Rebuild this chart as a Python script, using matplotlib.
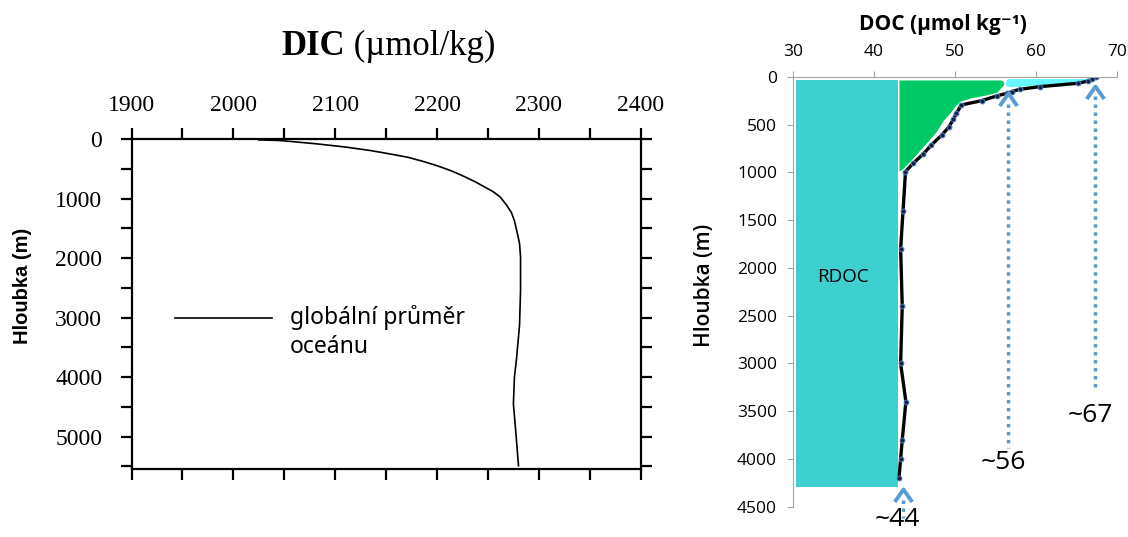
import matplotlib
matplotlib.use('Agg')
import matplotlib.pyplot as plt
from matplotlib.ticker import MultipleLocator

# DIC - global ocean mean profile
dic_depth = [10, 20, 30, 75, 130, 190, 250, 305, 380, 450, 530, 620, 710, 795, 880, 970, 1100, 1230, 1370, 1515, 1750,
             1975, 2550, 3130, 3700, 4000, 4450, 4850, 5490]
dic_value = [2025, 2045, 2052, 2081, 2110, 2135, 2155, 2172, 2188, 2201, 2214, 2226, 2237, 2246, 2255, 2262, 2268, 2273, 2276,
             2278, 2281, 2282, 2282, 2281, 2278, 2276, 2275, 2277, 2280]
dic_surf_depth = [0, 0]
dic_surf_value = [1900, 2025]

# DOC profile
doc_depth = [3, 21, 42, 66, 101, 129, 154, 171, 199, 248, 293, 380, 443, 520, 607, 712, 806, 904, 991,
             1400, 1800, 2400, 3000, 3400, 3800, 4000, 4200]
doc_value = [67.5, 66.95, 66.5, 65.2, 60.5, 58.0, 57.0, 56.4, 55.15, 53.3, 50.8, 50.2, 49.8, 49.3, 48.4, 47.1, 46.1, 44.85, 43.9,
             43.6, 43.3, 43.5, 43.3, 43.95, 43.5, 43.3, 43.1]

# fractions
rdoc_left, rdoc_right = 30.4, 42.95
rdoc_top, rdoc_bottom = 31, 4290
green_depth = [31, 40, 60, 84, 110, 140, 160, 188, 220, 255, 307, 377, 450, 572, 680, 764, 850, 921, 955, 980]
green_right = [55.6, 55.9, 56.05, 56.0, 55.7, 55.4, 55.15, 53.9, 51.85, 50.6, 50.0, 49.4, 48.6, 47.7, 46.6, 45.7, 44.8, 44.0, 43.6, 43.2]
green_left = 43.1
cyan_x = [56.6, 67.1, 66.8, 65.4, 60.5, 57.5, 56.8, 56.4, 56.3, 56.4]
cyan_y = [21, 21, 40, 60, 88, 103, 108, 95, 73, 40]

# arrows: value, tip depth, tail depth, label, label position
arrow_x = [43.55, 56.6, 67.3]
arrow_tip = [4315, 171, 94]
arrow_tail = [4620, 3880, 3280]
arrow_lbl = ['~44', '~56', '~67']
arrow_lbl_x = [42.9, 56.0, 66.7]
arrow_lbl_y = [4770, 4036, 3540]
arrow_lbl_va = ['bottom', 'center', 'center']

fig = plt.figure(figsize=(11.28, 5.37), dpi=100)
fig.patch.set_facecolor('white')

# ---------------- left panel ----------------
serif = 'Liberation Serif'
ax1 = fig.add_axes([0.1166, 0.1261, 0.4514, 0.6145])
ax1.plot(dic_value, dic_depth, color='black', lw=1.2)
ax1.plot(dic_surf_value, dic_surf_depth, color='black', lw=1.3, ls=(0, (2, 1.5)), clip_on=False)
ax1.set_xlim(1900, 2400)
ax1.set_ylim(5550, 0)
ax1.xaxis.set_major_locator(MultipleLocator(100))
ax1.xaxis.set_minor_locator(MultipleLocator(50))
ax1.yaxis.set_major_locator(MultipleLocator(1000))
ax1.yaxis.set_minor_locator(MultipleLocator(500))
ax1.tick_params(which='both', direction='out', length=8, width=1.6,
                top=True, bottom=True, left=True, right=True,
                labeltop=True, labelbottom=False)
ax1.tick_params(axis='x', which='major', pad=9)
ax1.tick_params(axis='y', which='major', pad=13)
for s in ax1.spines.values():
    s.set_linewidth(1.6)
for lab in ax1.get_xticklabels() + ax1.get_yticklabels():
    lab.set_fontfamily(serif)
    lab.set_fontsize(17)
ax1.set_ylabel('Hloubka (m)', fontfamily='Liberation Sans', fontweight='bold', fontsize=14.5)
ax1.yaxis.set_label_coords(-0.195, 0.555)
fig.text(0.306, 0.913, 'DIC', fontfamily=serif, fontweight='bold', fontsize=25, ha='right', va='center')
fig.text(0.306, 0.913, ' (µmol/kg)', fontfamily=serif, fontsize=25, ha='left', va='center')

ax1.plot([0.085, 0.276], [0.4585, 0.4585], transform=ax1.transAxes, color='black', lw=1.2)
ax1.text(0.311, 0.4585, 'globální průměr', transform=ax1.transAxes, fontfamily='Noto Sans',
         fontweight='semibold', fontsize=16.5, va='center')
ax1.text(0.311, 0.3706, 'oceánu', transform=ax1.transAxes, fontfamily='Noto Sans',
         fontweight='semibold', fontsize=16.5, va='center')

# ---------------- right panel ----------------
sans = ['Open Sans', 'DejaVu Sans']
ax2 = fig.add_axes([0.703, 0.0564, 0.287, 0.8002])
ax2.set_xlim(30, 70)
ax2.set_ylim(4500, 0)
ax2.fill_betweenx([rdoc_top, rdoc_bottom], rdoc_left, rdoc_right, color='#3ECFCF', lw=0)
ax2.fill_betweenx(green_depth, green_left, green_right, color='#00C966', lw=0)
ax2.fill(cyan_x, cyan_y, color='#66F6FF', lw=0)
ax2.plot(doc_value, doc_depth, color='black', lw=2.4, marker='o', ms=3.5,
         mfc='#14203C', mec='#4F81BD', mew=0.7)

acol = '#5B9BD5'
chevron = [(-0.7, -1), (0, 0), (0.7, -1)]
for x, tip, tail, lbl, lx, ly, va in zip(arrow_x, arrow_tip, arrow_tail, arrow_lbl,
                                         arrow_lbl_x, arrow_lbl_y, arrow_lbl_va):
    ax2.plot([x, x], [tip + 110, tail], color=acol, lw=2.5, ls=(0, (1, 1.3)), clip_on=False)
    ax2.plot([x], [tip], marker=chevron, ms=18, mfc='none', mec=acol, mew=2.8, clip_on=False)
    ax2.text(lx, ly, lbl, fontfamily=sans, fontsize=19, ha='center', va=va, clip_on=False)

ax2.text(36.2, 2094, 'RDOC', fontfamily=sans, fontsize=13.5, ha='center', va='center')

ax2.xaxis.set_ticks_position('top')
ax2.xaxis.set_major_locator(MultipleLocator(10))
ax2.yaxis.set_major_locator(MultipleLocator(500))
ax2.tick_params(direction='out', length=4.5, width=0.8, color='#A6A6A6', labelsize=12.5, pad=8)
ax2.tick_params(axis='y', pad=7)
for lab in ax2.get_xticklabels() + ax2.get_yticklabels():
    lab.set_fontfamily(sans)
for side in ['right', 'bottom']:
    ax2.spines[side].set_visible(False)
for side in ['left', 'top']:
    ax2.spines[side].set_color('#A6A6A6')
    ax2.spines[side].set_linewidth(0.8)
ax2.set_ylabel('Hloubka (m)', fontfamily=sans, fontweight='semibold', fontsize=15)
ax2.yaxis.set_label_coords(-0.241, 0.516)
ax2.text(0.463, 1.123, 'DOC (µmol kg⁻¹)', transform=ax2.transAxes, fontfamily=sans,
         fontweight='bold', fontsize=15, ha='center', va='center')

fig.savefig('out.png', dpi=100)
